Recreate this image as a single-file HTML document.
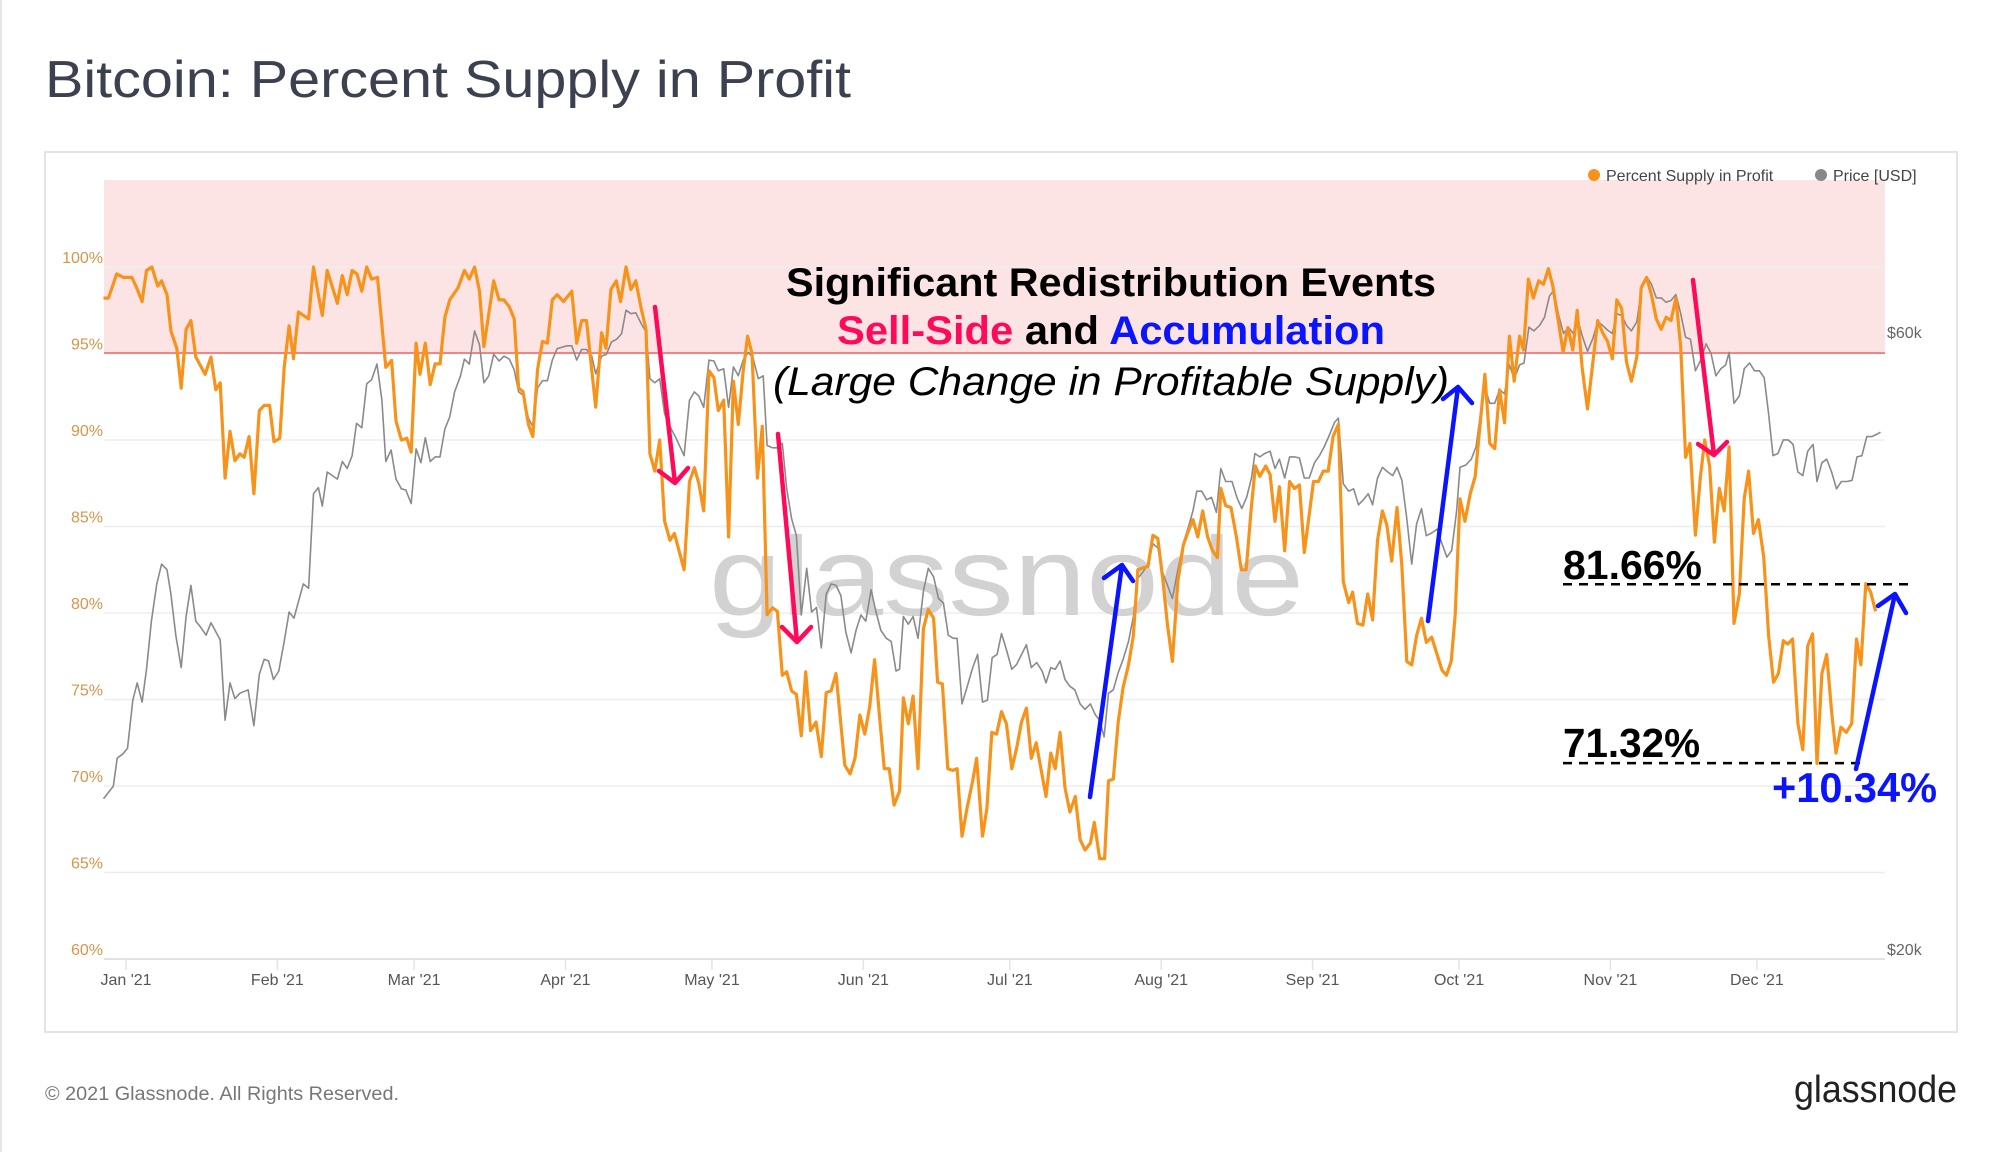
<!DOCTYPE html>
<html><head><meta charset="utf-8"><style>
html,body{margin:0;padding:0;background:#fff;}
svg{display:block;font-family:"Liberation Sans",sans-serif;}
</style></head><body>
<svg id="chart" width="2000" height="1152" viewBox="0 0 2000 1152" xmlns="http://www.w3.org/2000/svg">
<rect x="0" y="0" width="2000" height="1152" fill="#fff"/>
<line x1="1" y1="0" x2="1" y2="1152" stroke="#e6e6e6" stroke-width="2"/>
<text x="45" y="97" font-size="52" fill="#3c4150" textLength="806" lengthAdjust="spacingAndGlyphs">Bitcoin: Percent Supply in Profit</text>
<rect x="45" y="152" width="1912" height="880" fill="none" stroke="#e4e4e4" stroke-width="2"/>
<rect x="104" y="180" width="1781" height="173" fill="#fde4e4"/>
<g id="grid"></g>
<text x="709" y="615" font-size="112" fill="#d2d2d2" textLength="595" lengthAdjust="spacingAndGlyphs">glassnode</text>
<line x1="104" y1="353" x2="1885" y2="353" stroke="#f08585" stroke-width="2"/>
<g id="series"></g>
<g id="legend">
<circle cx="1594" cy="175" r="6" fill="#f7931a"/>
<text x="1606" y="181" font-size="16" fill="#444">Percent Supply in Profit</text>
<circle cx="1821" cy="175" r="6" fill="#888"/>
<text x="1833" y="181" font-size="16" fill="#444">Price [USD]</text>
</g>
<g id="annotations" font-weight="bold">
<text x="786" y="296" font-size="40" fill="#000" textLength="650" lengthAdjust="spacingAndGlyphs">Significant Redistribution Events</text>
<text x="837" y="344" font-size="40" fill="#000" textLength="548" lengthAdjust="spacingAndGlyphs"><tspan fill="#ff0a5a">Sell-Side</tspan> and <tspan fill="#0a14ff">Accumulation</tspan></text>
<text x="773" y="395" font-size="40" font-weight="normal" font-style="italic" fill="#000" textLength="676" lengthAdjust="spacingAndGlyphs">(Large Change in Profitable Supply)</text>
<text x="1563" y="579" font-size="41" fill="#000" textLength="139" lengthAdjust="spacingAndGlyphs">81.66%</text>
<text x="1563" y="757" font-size="41" fill="#000" textLength="137" lengthAdjust="spacingAndGlyphs">71.32%</text>
<text x="1772" y="802" font-size="42" fill="#0a14ff" textLength="165" lengthAdjust="spacingAndGlyphs">+10.34%</text>
</g>
<g id="arrows" fill="none" stroke-width="4.5" stroke-linecap="round" stroke-linejoin="round">
<path stroke="#ff0a5a" d="M655 307 L675 483 M659 471 L675 483 L688 468"/>
<path stroke="#ff0a5a" d="M778 434 L797 642 M782 627 L797 642 L811 627"/>
<path stroke="#0a14ff" d="M1090 797 L1122 565 M1104 578 L1122 565 L1133 581"/>
<path stroke="#0a14ff" d="M1428 621 L1458 387 M1443 399 L1458 387 L1472 403"/>
<path stroke="#ff0a5a" d="M1693 280 L1714 455 M1698 444 L1714 455 L1727 442"/>
<path stroke="#0a14ff" d="M1856 769 L1895 594 M1878 606 L1895 594 L1906 613"/>
</g>
<text x="45" y="1100" font-size="19" fill="#777" textLength="354" lengthAdjust="spacingAndGlyphs">© 2021 Glassnode. All Rights Reserved.</text>
<text x="1794" y="1102" font-size="38" fill="#222" textLength="163" lengthAdjust="spacingAndGlyphs">glassnode</text>
</svg>
<script>
const pctTicks = [60,65,70,75,80,85,90,95,100];
const priceTicks = [20,60];
const priceTickLabels = ["$20k","$60k"];
const monthDays = [0,31,59,90,120,151,181,212,243,273,304,334];
const monthLabels = ["Jan '21","Feb '21","Mar '21","Apr '21","May '21","Jun '21","Jul '21","Aug '21","Sep '21","Oct '21","Nov '21","Dec '21"];
const refLevels = [81.66,71.32];
const refStartDay = 295;
const refEndDays = [366,356];

const pctDays = [-4.6,-3.6,-1.9,-0.5,1.2,2.2,3.3,4.2,5.3,6.5,7.3,8.4,9.2,10.4,11.3,12.3,13.3,14.3,16.2,17.4,18.4,19.3,20.3,21.3,22.3,23.3,24.2,25.2,26.2,27.3,28.3,29.4,30.3,31.5,32.4,33.4,34.3,35.3,37.4,38.4,39.2,40.2,41.2,42.3,43.3,44.3,45.3,46.3,47.3,48.3,49.3,50.3,51.5,53.2,54.4,55.3,56.4,57.5,58.4,59.4,60.2,61.3,62.3,63.3,64.3,65.3,66.3,68.0,69.3,70.3,71.4,72.4,73.3,75.3,76.4,77.4,78.5,79.5,80.4,81.3,82.4,83.3,84.3,85.3,86.3,87.3,88.3,
89.6,91.3,92.3,93.3,94.3,96.2,97.4,98.3,99.3,100.4,101.3,102.4,103.4,104.4,105.5,106.5,107.3,108.3,109.3,110.3,111.4,112.3,114.3,115.4,116.4,117.3,118.3,119.4,120.4,121.3,122.4,123.4,124.4,125.4,126.4,127.3,128.2,129.3,130.3,131.3,132.4,133.4,134.4,135.3,136.3,137.3,138.3,139.2,140.2,141.3,142.4,143.4,144.4,145.4,147.2,148.3,149.3,150.3,151.3,152.3,153.3,154.3,155.3,156.3,157.3,158.4,159.2,160.2,161.2,162.2,163.3,164.3,165.4,166.2,167.2,168.3,169.3,170.2,171.2,172.3,173.4,174.2,175.4,176.3,177.3,178.3,179.3,180.3,
181.4,182.4,183.4,184.4,185.4,186.4,187.3,188.4,189.4,190.3,191.3,192.3,193.3,194.4,195.4,196.4,197.5,198.3,199.4,200.4,201.2,202.2,203.2,204.2,205.3,206.3,207.2,208.2,209.3,210.3,211.3,212.3,213.3,214.3,215.4,216.5,217.5,218.5,219.5,220.5,221.5,222.5,223.5,224.2,225.2,226.3,227.4,228.4,229.4,230.4,231.3,232.2,233.4,234.3,235.3,236.2,237.3,238.3,239.3,240.3,241.3,243.2,244.2,245.2,246.2,247.2,248.3,249.3,250.4,251.2,252.2,253.3,254.3,255.3,256.3,257.3,258.2,259.2,260.3,261.3,262.3,263.3,264.3,265.3,266.3,267.4,268.5,269.5,270.4,271.4,
272.2,273.2,274.2,275.3,276.3,277.3,278.3,279.3,280.3,281.3,282.3,283.3,284.3,285.4,286.2,287.2,288.2,289.3,290.3,291.3,292.2,293.2,294.3,295.3,296.3,297.2,298.2,299.3,300.4,301.4,302.4,303.4,304.4,305.3,306.3,307.3,308.3,309.4,310.3,311.4,312.4,313.4,314.4,315.4,316.4,317.4,318.4,319.4,320.3,321.4,322.4,323.3,324.3,325.3,326.3,327.3,328.3,329.3,330.4,331.4,332.3,333.3,334.3,335.4,336.4,337.4,338.4,339.4,340.3,341.3,342.4,343.4,344.4,345.4,346.3,347.3,348.3,349.3,350.2,351.2,352.3,353.4,354.4,355.3,356.3,357.3,358.3];
const pctValues = [98.2,98.2,99.6,99.4,99.4,98.8,98.0,99.8,100,98.9,99.2,98.4,96.3,95.3,93.0,96.4,96.9,94.8,93.8,94.8,92.9,93.3,87.8,90.5,88.8,89.2,89.0,90.2,86.9,91.7,92.0,92.0,89.9,90.1,94.2,96.6,94.7,97.4,97.0,100,98.7,97.2,99.8,98.8,97.9,99.5,98.4,99.8,99.6,98.6,100,99.3,99.4,94.2,94.6,91.1,90.0,90.1,89.3,95.6,93.8,95.6,93.2,94.4,94.4,97.1,98.1,98.8,99.8,99.3,100,98.6,95.4,99.2,98.1,98.1,97.7,97.0,93.0,92.8,90.9,90.2,94.1,95.7,95.6,98.1,98.4,
98.0,98.6,95.6,96.9,96.9,91.9,96.2,95.3,98.7,99.2,98.0,100,98.7,99.2,97.6,96.4,89.2,88.2,90.0,85.3,84.2,84.6,82.5,87.6,88.4,87.5,85.9,94.0,93.6,91.7,92.3,84.4,93.4,90.9,94.0,96.0,95.0,87.8,90.8,79.9,80.3,80.1,76.4,76.6,75.5,75.3,72.9,76.6,73.2,73.7,71.7,75.4,75.5,76.5,71.2,70.7,71.6,74.1,73.0,74.6,77.3,74.1,71.0,71.0,68.9,69.7,75.1,73.6,75.2,71.0,79.1,80.2,79.7,76.0,75.9,71.0,70.9,71.0,67.1,68.8,70.3,71.6,67.1,68.7,73.1,73.0,74.3,73.6,
71.0,72.2,73.7,74.5,71.6,72.5,71.1,69.4,71.9,71.0,73.1,69.9,68.5,69.4,66.9,66.3,66.7,67.9,65.8,65.8,70.3,70.4,73.7,75.7,77.0,78.7,82.5,82.6,82.7,84.5,84.3,82.0,79.3,77.2,81.8,83.9,84.7,85.4,84.4,85.9,84.4,83.6,83.2,87.2,86.2,86.1,84.4,82.5,82.5,85.9,88.5,87.9,88.5,88.0,85.3,87.3,83.6,87.6,87.2,87.4,83.5,87.6,87.6,88.2,88.2,90.2,90.9,81.8,80.6,81.2,79.4,79.3,81.1,79.6,84.2,85.9,85.1,83.0,86.1,82.7,77.2,77.0,78.7,79.7,78.3,78.6,77.6,76.7,76.4,77.2,
79.9,86.6,85.3,86.9,87.9,90.9,93.8,89.8,89.5,92.9,91.0,96.0,93.4,96.0,95.2,99.3,98.2,99.2,99.0,99.9,98.9,97.1,95.1,96.5,95.2,97.5,94.2,91.8,94.5,96.9,96.2,95.7,94.7,98.1,97.6,94.5,93.4,94.8,98.8,99.4,98.4,97.0,96.4,97.1,96.9,98.2,95.4,89.0,89.8,84.5,87.8,90.0,88.5,84.1,87.2,85.9,89.6,79.4,81.1,86.6,88.2,84.6,85.4,83.2,78.7,76.0,76.5,78.4,78.2,78.5,73.6,72.1,78.1,78.8,71.3,76.5,77.6,74.3,71.9,73.4,73.1,73.6,78.5,77.0,81.7,81.2,80.1];

const priceDays = [-4.6,-3.6,-2.6,-1.8,-0.7,0.3,1.4,2.3,3.3,4.2,5.2,6.3,7.3,8.4,9.2,10.2,11.3,12.3,13.3,14.3,15.3,16.4,17.4,19.3,20.3,21.3,22.3,23.3,25.0,26.2,27.3,28.3,29.2,30.2,31.3,32.4,33.4,34.4,35.4,36.3,37.4,38.4,39.4,40.2,41.2,43.3,44.3,45.3,46.3,47.2,48.3,49.3,50.3,51.4,52.4,53.2,54.3,55.3,56.4,57.3,58.4,59.4,60.4,61.3,62.3,63.3,64.3,65.3,66.3,67.3,68.5,69.3,70.3,71.4,72.4,73.3,74.3,75.3,76.4,77.4,78.5,79.5,80.4,81.3,82.4,83.3,84.3,85.3,86.3,87.3,88.3,
90.3,91.3,92.3,93.3,94.3,95.4,96.2,97.4,98.4,99.4,100.5,101.5,102.4,103.4,104.4,105.5,106.5,107.3,108.3,109.3,110.3,111.4,112.5,114.3,115.4,116.4,117.3,118.3,119.4,120.4,121.3,122.4,123.4,124.4,125.4,126.4,127.4,128.4,129.5,130.5,131.3,132.4,133.4,134.4,135.3,136.3,137.3,138.3,139.4,140.4,141.4,142.4,143.4,144.4,145.4,146.4,147.4,148.5,149.5,150.5,151.5,152.6,153.6,154.6,155.7,156.7,157.7,158.4,159.2,160.2,161.2,162.2,163.3,164.3,165.4,166.4,167.4,168.4,169.4,170.2,171.2,172.3,173.4,174.4,175.4,176.4,177.4,178.4,179.3,180.3,
181.4,182.4,184.4,185.4,186.5,187.6,188.4,189.4,190.3,191.3,192.3,193.3,194.3,195.4,196.4,197.5,198.5,199.4,200.3,201.2,202.2,203.2,204.2,205.3,206.3,207.2,208.2,209.3,210.3,211.3,212.3,213.3,214.3,215.3,216.5,217.5,218.5,219.3,220.3,221.3,222.3,223.3,224.2,225.2,226.5,227.5,228.5,229.5,230.5,231.2,232.2,233.2,234.3,235.3,236.2,237.3,238.3,239.3,240.3,241.3,242.3,243.4,244.4,245.4,246.4,247.5,248.3,249.3,250.4,251.4,252.4,253.4,254.4,255.3,256.3,257.3,258.4,259.4,260.3,261.3,262.3,263.3,264.3,265.3,266.3,267.4,268.5,269.5,270.5,271.5,272.5,
273.2,274.4,275.5,276.5,277.5,278.3,279.3,280.3,281.3,282.3,283.3,284.3,285.4,286.3,287.3,288.3,289.5,290.5,291.5,292.4,293.4,294.4,295.4,296.4,297.2,298.2,299.3,300.4,301.4,302.4,303.4,304.4,305.3,306.3,307.3,308.3,309.4,310.5,311.4,312.4,313.4,314.4,315.4,316.4,317.4,318.4,319.4,320.4,321.4,322.4,323.6,324.6,325.6,326.6,327.6,328.3,329.3,330.4,331.4,332.5,333.5,334.5,335.5,336.4,337.3,338.3,339.4,340.4,341.4,342.4,343.4,344.4,345.5,346.3,347.3,348.3,349.3,350.3,351.3,352.5,353.5,354.5,355.5,356.5,357.5,358.5,359.3];
const priceValues = [26.6,26.9,27.2,28.6,28.8,29.1,31.7,32.7,31.6,33.5,36.5,39.0,40.4,40.0,38.3,35.6,33.6,36.8,38.9,36.5,36.1,35.6,36.4,35.3,30.6,32.7,31.8,32.1,32.3,30.3,33.2,34.1,34.0,32.9,33.4,35.2,37.1,36.7,37.9,39.0,38.7,45.8,46.3,44.8,47.6,47.0,48.5,47.9,49.0,51.9,51.5,55.7,56.1,57.7,54.1,48.5,49.5,47.0,46.2,46.1,45.0,49.6,48.4,50.6,48.5,48.9,48.9,51.4,52.5,54.9,56.5,58.2,57.7,61.2,59.7,55.8,56.5,58.7,58.0,58.5,58.2,57.1,54.9,54.6,52.4,51.6,55.3,56.0,56.0,58.1,59.3,
59.6,59.6,58.1,59.2,59.2,58.5,56.7,58.5,58.7,60.0,60.3,60.9,63.5,63.1,63.2,62.0,61.1,56.2,55.8,56.2,52.8,51.6,50.7,49.0,54.1,54.9,54.5,53.4,58.1,58.0,57.0,57.2,53.4,57.4,56.5,58.1,58.9,58.3,56.2,56.5,49.9,49.7,49.7,50.1,46.2,43.8,42.5,36.9,40.1,37.1,37.4,34.8,38.3,39.0,38.9,38.2,35.8,34.5,35.9,36.9,36.5,38.6,37.1,35.9,35.4,35.2,33.4,33.5,36.8,36.3,36.8,35.4,38.5,40.1,39.5,38.0,37.7,35.6,35.4,35.4,31.5,32.5,33.6,34.4,31.6,31.7,34.2,34.4,35.7,34.7,
33.5,33.8,35.0,33.6,33.9,33.4,32.7,33.6,33.5,34.0,32.9,32.5,32.3,31.5,31.2,31.5,30.9,30.6,29.7,32.1,32.3,33.3,34.1,35.2,36.8,39.4,39.8,40.4,41.9,41.6,39.8,38.9,38.0,39.8,41.9,43.1,44.4,46.0,46.0,45.3,45.5,44.3,47.9,46.8,46.8,45.5,44.6,45.5,47.1,49.2,48.9,49.2,49.4,47.9,48.7,47.1,48.9,48.9,48.8,47.1,47.1,48.4,49.0,49.8,50.8,52.0,52.4,46.6,46.0,46.2,44.9,45.3,45.8,44.9,47.1,48.0,47.6,47.3,48.0,46.9,43.8,40.4,43.4,44.6,42.5,42.7,43.0,41.9,40.9,41.4,44.4,
48.0,48.2,48.7,49.8,53.2,55.3,53.8,53.8,55.1,54.7,57.6,56.2,57.6,57.8,61.6,61.2,61.8,62.7,65.1,65.8,62.9,60.9,61.6,60.9,62.7,60.7,59.0,60.4,62.2,61.8,61.3,60.9,63.1,62.9,61.8,61.2,62.2,66.5,67.4,66.5,64.9,64.9,64.4,64.6,65.3,63.1,60.5,60.3,57.0,58.0,59.8,58.8,56.5,57.2,57.6,58.9,53.8,54.5,57.2,57.8,57.0,57.0,56.3,52.8,49.0,49.2,50.4,50.4,50.0,47.6,47.3,49.4,50.0,46.8,48.4,48.7,47.6,46.2,46.8,46.8,46.9,48.9,49.0,50.7,50.7,50.9,51.1];

const NS = "http://www.w3.org/2000/svg";
const X0 = 126, PX_PER_DAY = 4.883, PLOT_L = 104, PLOT_R = 1885;
function xScale(d){ return X0 + d*PX_PER_DAY; }
function yPct(v){ return 267 + (100 - v)*17.3; }
function yPrice(p){ return 959 - Math.log(p/20)/Math.log(3)*617; }
function mk(tag, attrs, parent){ const e=document.createElementNS(NS,tag); for(const k in attrs) e.setAttribute(k,attrs[k]); parent.appendChild(e); return e; }

const grid = document.getElementById('grid');
pctTicks.forEach(v=>{
  const y = yPct(v);
  const gl = mk('line',{x1:PLOT_L,y1:y,x2:PLOT_R,y2:y,stroke:(v===60?'#e2e2e2':'#ededed'),'stroke-width':(v===60?2:1.5)},grid);
  
  
  const t = mk('text',{x:103,y:y-4,'font-size':16,fill:'#d8944a','text-anchor':'end'},grid);
  t.textContent = v + '%';
  
  
});
priceTicks.forEach((p,i)=>{
  const t = mk('text',{x:1887,y:yPrice(p)-4,'font-size':16,fill:'#666'},grid);
  t.textContent = priceTickLabels[i];
  
  
});
monthDays.forEach((d,i)=>{
  const x = xScale(d);
  const tk = mk('line',{x1:x,y1:959,x2:x,y2:970,stroke:'#e4e4e4','stroke-width':1.5},grid);
  
  
  const t = mk('text',{x:x,y:985,'font-size':16,fill:'#555','text-anchor':'middle'},grid);
  t.textContent = monthLabels[i];
  
  
});

const series = document.getElementById('series');
function pathFrom(days, vals, yf){
  return days.map((d,i)=>(i?'L':'M')+xScale(d).toFixed(1)+' '+yf(vals[i]).toFixed(1)).join(' ');
}
const pl = mk('path',{d:pathFrom(priceDays,priceValues,yPrice),fill:'none',stroke:'#8a8a8a','stroke-width':1.6,'stroke-linejoin':'round'},series);


const ol = mk('path',{d:pathFrom(pctDays,pctValues,yPct),fill:'none',stroke:'#f7931a','stroke-width':3.2,'stroke-linejoin':'round'},series);



refLevels.forEach((lv,i)=>{
  const y = yPct(lv);
  const dl = mk('line',{x1:1563,y1:y,x2:xScale(refEndDays[i]),y2:y,stroke:'#000','stroke-width':2.5,'stroke-dasharray':'9 7'},series);
  
  
});
</script>
</body></html>
